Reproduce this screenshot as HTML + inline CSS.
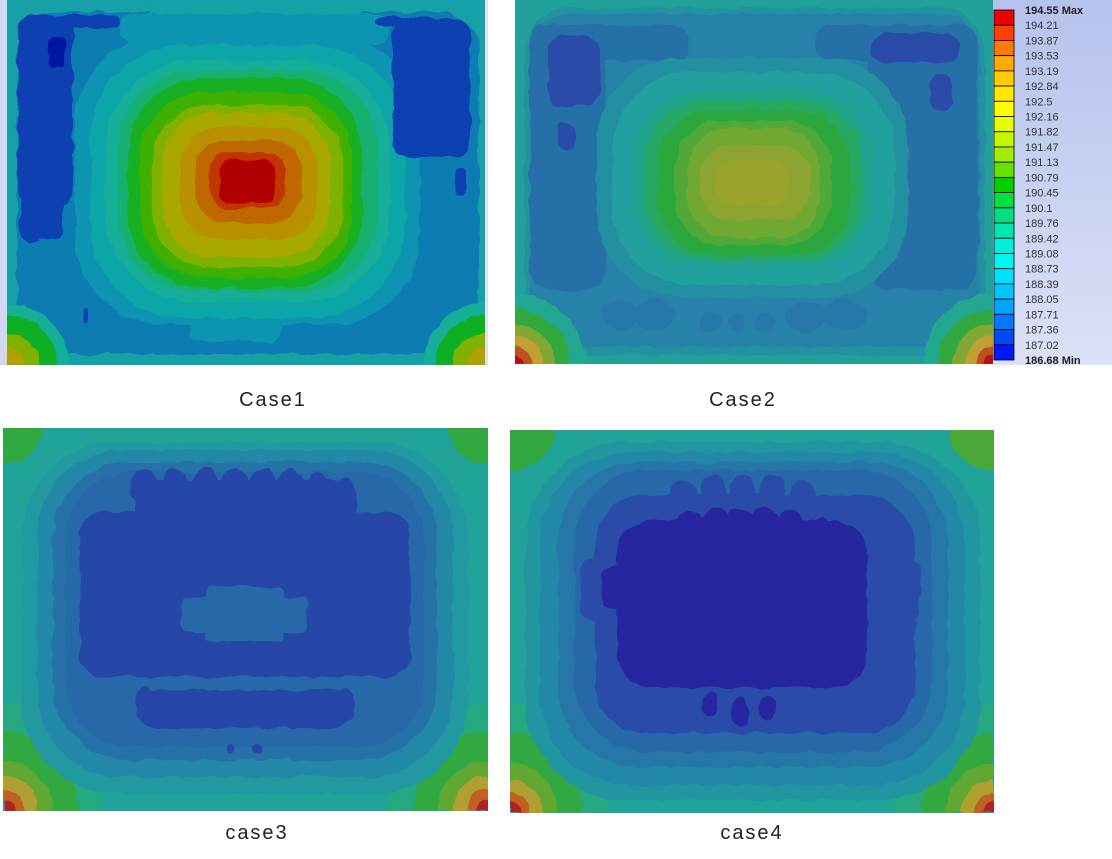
<!DOCTYPE html>
<html><head><meta charset="utf-8"><style>
html,body{margin:0;padding:0;background:#fff;width:1112px;height:859px;overflow:hidden;position:relative;}
svg{display:block;position:absolute;left:0;top:0;}
text{font-family:"Liberation Sans",sans-serif;}
</style></head><body>
<svg width="1112" height="859" viewBox="0 0 1112 859" xmlns="http://www.w3.org/2000/svg">
<defs>
<filter id="wob" x="-10%" y="-10%" width="120%" height="120%">
<feTurbulence type="fractalNoise" baseFrequency="0.06" numOctaves="2" seed="4"/>
<feDisplacementMap in="SourceGraphic" scale="7" xChannelSelector="R" yChannelSelector="G"/>
</filter>
<clipPath id="c1"><rect x="7" y="0" width="478" height="365"/></clipPath>
<clipPath id="c2"><rect x="515" y="0" width="478" height="364"/></clipPath>
<clipPath id="c3"><rect x="3" y="428" width="485" height="383"/></clipPath>
<clipPath id="c4"><rect x="510" y="430" width="484" height="383"/></clipPath>
<linearGradient id="lg" x1="0" y1="0" x2="0" y2="1">
<stop offset="0" stop-color="#b6c2ee"/><stop offset="1" stop-color="#dbe1f6"/>
</linearGradient>
</defs>
<rect width="1112" height="859" fill="#fff"/>
<rect x="0" y="0" width="7" height="365" fill="#d2d8f4"/>
<rect x="485" y="0" width="3" height="365" fill="#dde2f6"/>

<!-- ============ CASE 1 ============ -->
<g clip-path="url(#c1)"><g filter="url(#wob)">
<rect x="-10" y="-10" width="510" height="390" fill="#12a0a8"/>
<rect x="17" y="12" width="462" height="342" rx="40" fill="#0a7cb2"/>
<rect x="150" y="-10" width="210" height="38" rx="15" fill="#12a0a8"/>
<rect x="120" y="14" width="270" height="30" rx="14" fill="#0a94b0"/>
<rect x="75" y="35" width="345" height="290" rx="90" fill="#0a94b0"/>
<rect x="190" y="318" width="90" height="24" rx="10" fill="#0a94b0"/>
<rect x="90" y="45" width="315" height="273" rx="95" fill="#10a6a8"/>
<rect x="105" y="60" width="285" height="242" rx="90" fill="#14ae98"/>
<rect x="118" y="70" width="260" height="222" rx="80" fill="#12b070"/>
<rect x="128" y="78" width="234" height="210" rx="75" fill="#14b024"/>
<rect x="140" y="92" width="212" height="186" rx="65" fill="#40b000"/>
<rect x="152" y="105" width="191" height="162" rx="58" fill="#80b000"/>
<rect x="163" y="113" width="167" height="144" rx="50" fill="#a8a800"/>
<rect x="180" y="127" width="137" height="113" rx="40" fill="#b89000"/>
<rect x="195" y="140" width="107" height="83" rx="30" fill="#c06800"/>
<rect x="210" y="153" width="75" height="55" rx="18" fill="#c03400"/>
<rect x="219" y="160" width="56" height="43" rx="10" fill="#b00000"/>
<rect x="18" y="15" width="55" height="190" rx="14" fill="#0a40b0"/>
<rect x="20" y="195" width="43" height="45" rx="10" fill="#0a40b0"/>
<rect x="60" y="15" width="60" height="13" rx="6" fill="#0a40b0"/>
<rect x="26" y="210" width="14" height="32" rx="5" fill="#0a40b0"/>
<rect x="48" y="37" width="17" height="31" rx="6" fill="#0018a0"/>
<rect x="393" y="18" width="77" height="139" rx="14" fill="#0a40b0"/>
<rect x="375" y="17" width="40" height="8" rx="4" fill="#0a40b0"/>
<rect x="455" y="167" width="11" height="30" rx="5" fill="#0a40b0"/>
<rect x="84" y="306" width="6" height="18" rx="3" fill="#0a40b0"/>
<circle cx="7" cy="365" r="62" fill="#14ae98"/>
<circle cx="7" cy="365" r="50" fill="#10b020"/>
<circle cx="7" cy="365" r="32" fill="#80b000"/>
<circle cx="7" cy="365" r="18" fill="#b0a000"/>
<circle cx="485" cy="365" r="62" fill="#14ae98"/>
<circle cx="485" cy="365" r="50" fill="#10b020"/>
<circle cx="485" cy="365" r="32" fill="#80b000"/>
<circle cx="485" cy="365" r="18" fill="#b0a000"/>
</g></g>

<!-- ============ CASE 2 ============ -->
<g clip-path="url(#c2)"><g filter="url(#wob)">
<rect x="505" y="-10" width="500" height="385" fill="#22a09a"/>
<rect x="525" y="8" width="460" height="347" rx="45" fill="#2492a0"/>
<rect x="530" y="14" width="450" height="333" rx="40" fill="#2582a8"/>
<rect x="530" y="30" width="75" height="260" rx="20" fill="#2870a8"/>
<rect x="530" y="25" width="160" height="35" rx="15" fill="#2870a8"/>
<rect x="868" y="30" width="110" height="260" rx="20" fill="#2870a8"/>
<rect x="815" y="25" width="163" height="35" rx="15" fill="#2870a8"/>
<ellipse cx="620" cy="315" rx="18" ry="15" fill="#2878a8"/>
<ellipse cx="655" cy="315" rx="20" ry="16" fill="#2878a8"/>
<ellipse cx="710" cy="322" rx="10" ry="10" fill="#2878a8"/>
<ellipse cx="737" cy="322" rx="9" ry="9" fill="#2878a8"/>
<ellipse cx="765" cy="322" rx="9" ry="9" fill="#2878a8"/>
<ellipse cx="805" cy="317" rx="20" ry="15" fill="#2878a8"/>
<ellipse cx="845" cy="315" rx="22" ry="16" fill="#2878a8"/>
<rect x="597" y="58" width="311" height="240" rx="85" fill="#2390a0"/>
<rect x="612" y="72" width="283" height="213" rx="80" fill="#22a0a0"/>
<rect x="633" y="90" width="240" height="177" rx="70" fill="#24a48c"/>
<rect x="645" y="100" width="217" height="160" rx="62" fill="#28a862"/>
<rect x="658" y="110" width="192" height="145" rx="55" fill="#2aa83c"/>
<rect x="675" y="120" width="157" height="125" rx="48" fill="#50a838"/>
<rect x="687" y="128" width="133" height="110" rx="42" fill="#70a830"/>
<rect x="700" y="145" width="110" height="75" rx="30" fill="#8ea430"/>
<rect x="715" y="160" width="75" height="45" rx="18" fill="#9aa42a"/>
<rect x="548" y="35" width="52" height="70" rx="15" fill="#2a4ca8"/>
<rect x="550" y="70" width="28" height="38" rx="10" fill="#2a4ca8"/>
<rect x="558" y="122" width="17" height="28" rx="7" fill="#2a4ca8"/>
<rect x="872" y="33" width="86" height="29" rx="12" fill="#2a4ca8"/>
<rect x="930" y="75" width="22" height="35" rx="8" fill="#2a4ca8"/>
<circle cx="515" cy="364" r="70" fill="#22a890"/>
<circle cx="515" cy="364" r="55" fill="#30a840"/>
<circle cx="515" cy="364" r="40" fill="#80a830"/>
<circle cx="515" cy="364" r="28" fill="#c0a030"/>
<circle cx="515" cy="364" r="18" fill="#c05020"/>
<circle cx="515" cy="364" r="10" fill="#b01818"/>
<circle cx="993" cy="364" r="70" fill="#22a890"/>
<circle cx="993" cy="364" r="55" fill="#30a840"/>
<circle cx="993" cy="364" r="40" fill="#80a830"/>
<circle cx="993" cy="364" r="28" fill="#c0a030"/>
<circle cx="993" cy="364" r="18" fill="#c05020"/>
<circle cx="993" cy="364" r="10" fill="#b01818"/>
</g></g>

<!-- ============ CASE 3 ============ -->
<g clip-path="url(#c3)"><g filter="url(#wob)">
<rect x="-10" y="418" width="510" height="400" fill="#22a39a"/>
<ellipse cx="3" cy="428" rx="40" ry="35" fill="#30a840"/>
<ellipse cx="488" cy="428" rx="40" ry="35" fill="#30a840"/>
<path d="M3,811 L3,701 A100,110 0 0 1 103,811 Z" fill="#28a880"/>
<path d="M3,811 L3,731 A75,80 0 0 1 78,811 Z" fill="#30a840"/>
<path d="M3,811 L3,761 A50,50 0 0 1 53,811 Z" fill="#60a830"/>
<path d="M3,811 L3,776 A35,35 0 0 1 38,811 Z" fill="#b0a030"/>
<path d="M3,811 L3,789 A22,22 0 0 1 25,811 Z" fill="#c06020"/>
<path d="M3,811 L3,799 A12,12 0 0 1 15,811 Z" fill="#b02020"/>
<path d="M488,811 L388,811 A100,110 0 0 1 488,701 Z" fill="#28a880"/>
<path d="M488,811 L413,811 A75,80 0 0 1 488,731 Z" fill="#30a840"/>
<path d="M488,811 L438,811 A50,50 0 0 1 488,761 Z" fill="#60a830"/>
<path d="M488,811 L453,811 A35,35 0 0 1 488,776 Z" fill="#b0a030"/>
<path d="M488,811 L466,811 A22,22 0 0 1 488,789 Z" fill="#c06020"/>
<path d="M488,811 L476,811 A12,12 0 0 1 488,799 Z" fill="#b02020"/>
<rect x="22" y="442" width="446" height="352" rx="95" fill="#2298a0"/>
<rect x="37" y="450" width="416" height="327" rx="85" fill="#2488a8"/>
<rect x="53" y="462" width="384" height="298" rx="75" fill="#2672a8"/>
<rect x="66" y="472" width="358" height="275" rx="65" fill="#2868a8"/>
<g fill="#2846a8">
<rect x="80" y="512" width="330" height="165" rx="22"/>
<ellipse cx="144" cy="488" rx="13" ry="18"/>
<ellipse cx="175" cy="487" rx="14" ry="19"/>
<ellipse cx="205" cy="487" rx="14" ry="19"/>
<ellipse cx="235" cy="487" rx="14" ry="19"/>
<ellipse cx="263" cy="487" rx="14" ry="19"/>
<ellipse cx="291" cy="488" rx="14" ry="19"/>
<ellipse cx="318" cy="490" rx="12" ry="17"/>
<ellipse cx="345" cy="492" rx="10" ry="15"/>
<rect x="135" y="480" width="220" height="40" rx="10"/>
<rect x="140" y="690" width="210" height="38" rx="16"/>
<ellipse cx="145" cy="705" rx="10" ry="18"/>
<ellipse cx="345" cy="705" rx="10" ry="18"/>
</g>
<rect x="182" y="597" width="126" height="36" rx="6" fill="#2868a8"/>
<rect x="207" y="586" width="76" height="55" rx="6" fill="#2868a8"/>
<circle cx="230" cy="748" r="5" fill="#2846a8"/>
<circle cx="258" cy="748" r="5" fill="#2846a8"/>
</g></g>

<!-- ============ CASE 4 ============ -->
<g clip-path="url(#c4)"><g filter="url(#wob)">
<rect x="500" y="420" width="505" height="400" fill="#22a39a"/>
<ellipse cx="510" cy="430" rx="45" ry="40" fill="#30a840"/>
<ellipse cx="994" cy="430" rx="45" ry="40" fill="#48a838"/>
<path d="M510,813 L510,703 A100,110 0 0 1 610,813 Z" fill="#28a880"/>
<path d="M510,813 L510,733 A72,80 0 0 1 582,813 Z" fill="#30a840"/>
<path d="M510,813 L510,763 A48,50 0 0 1 558,813 Z" fill="#60a830"/>
<path d="M510,813 L510,780 A33,33 0 0 1 543,813 Z" fill="#b0a030"/>
<path d="M510,813 L510,793 A20,20 0 0 1 530,813 Z" fill="#c06020"/>
<path d="M510,813 L510,802 A11,11 0 0 1 521,813 Z" fill="#b02020"/>
<path d="M994,813 L894,813 A100,110 0 0 1 994,703 Z" fill="#28a880"/>
<path d="M994,813 L922,813 A72,80 0 0 1 994,733 Z" fill="#30a840"/>
<path d="M994,813 L946,813 A48,50 0 0 1 994,763 Z" fill="#60a830"/>
<path d="M994,813 L961,813 A33,33 0 0 1 994,780 Z" fill="#b0a030"/>
<path d="M994,813 L974,813 A20,20 0 0 1 994,793 Z" fill="#c06020"/>
<path d="M994,813 L983,813 A11,11 0 0 1 994,802 Z" fill="#b02020"/>
<rect x="525" y="442" width="455" height="358" rx="100" fill="#2196a0"/>
<rect x="540" y="452" width="425" height="333" rx="90" fill="#2488a8"/>
<rect x="558" y="462" width="390" height="305" rx="80" fill="#2676a8"/>
<rect x="575" y="470" width="357" height="282" rx="72" fill="#2668a8"/>
<g fill="#2a4ca8">
<rect x="595" y="495" width="320" height="238" rx="50"/>
<ellipse cx="683" cy="497" rx="13" ry="17"/>
<ellipse cx="713" cy="492" rx="13" ry="18"/>
<ellipse cx="743" cy="492" rx="13" ry="18"/>
<ellipse cx="773" cy="492" rx="13" ry="18"/>
<ellipse cx="803" cy="497" rx="13" ry="17"/>
<ellipse cx="825" cy="505" rx="8" ry="12"/>
<rect x="580" y="560" width="30" height="60" rx="12"/>
<rect x="900" y="560" width="20" height="60" rx="10"/>
</g>
<g fill="#2828a0">
<rect x="617" y="520" width="250" height="168" rx="35"/>
<ellipse cx="690" cy="525" rx="14" ry="14"/>
<ellipse cx="715" cy="522" rx="14" ry="14"/>
<ellipse cx="740" cy="522" rx="14" ry="14"/>
<ellipse cx="765" cy="522" rx="14" ry="14"/>
<ellipse cx="790" cy="525" rx="14" ry="14"/>
<ellipse cx="821" cy="535" rx="10" ry="18"/>
<rect x="602" y="565" width="30" height="44" rx="10"/>
<ellipse cx="710" cy="705" rx="8" ry="13"/>
<ellipse cx="740" cy="712" rx="9" ry="14"/>
<ellipse cx="768" cy="708" rx="9" ry="13"/>
<ellipse cx="855" cy="662" rx="8" ry="14"/>
</g>
</g></g>

<!-- ============ LEGEND ============ -->
<rect x="993" y="0" width="119" height="365" fill="url(#lg)"/>
<g stroke="#000" stroke-width="0.8">
<rect x="994" y="10.00" width="20" height="15.22" fill="#ee0000"/>
<rect x="994" y="25.22" width="20" height="15.22" fill="#ff4000"/>
<rect x="994" y="40.43" width="20" height="15.22" fill="#ff7a00"/>
<rect x="994" y="55.65" width="20" height="15.22" fill="#ffaa00"/>
<rect x="994" y="70.87" width="20" height="15.22" fill="#ffcc00"/>
<rect x="994" y="86.09" width="20" height="15.22" fill="#ffe800"/>
<rect x="994" y="101.30" width="20" height="15.22" fill="#ffff00"/>
<rect x="994" y="116.52" width="20" height="15.22" fill="#e4ff00"/>
<rect x="994" y="131.74" width="20" height="15.22" fill="#c4f800"/>
<rect x="994" y="146.96" width="20" height="15.22" fill="#a0ee00"/>
<rect x="994" y="162.17" width="20" height="15.22" fill="#6ae000"/>
<rect x="994" y="177.39" width="20" height="15.22" fill="#00d000"/>
<rect x="994" y="192.61" width="20" height="15.22" fill="#00e040"/>
<rect x="994" y="207.83" width="20" height="15.22" fill="#00e080"/>
<rect x="994" y="223.04" width="20" height="15.22" fill="#00e8b0"/>
<rect x="994" y="238.26" width="20" height="15.22" fill="#00f0d8"/>
<rect x="994" y="253.48" width="20" height="15.22" fill="#00f6f0"/>
<rect x="994" y="268.70" width="20" height="15.22" fill="#00e0ff"/>
<rect x="994" y="283.91" width="20" height="15.22" fill="#00c4ff"/>
<rect x="994" y="299.13" width="20" height="15.22" fill="#00a4ff"/>
<rect x="994" y="314.35" width="20" height="15.22" fill="#0078ff"/>
<rect x="994" y="329.57" width="20" height="15.22" fill="#0048f0"/>
<rect x="994" y="344.78" width="20" height="15.22" fill="#0018ff"/>
</g>
<g font-size="11" fill="#333">
<text x="1025" y="14" font-weight="bold" fill="#222">194.55 Max</text>
<text x="1025" y="29.2">194.21</text>
<text x="1025" y="44.4">193.87</text>
<text x="1025" y="59.7">193.53</text>
<text x="1025" y="74.9">193.19</text>
<text x="1025" y="90.1">192.84</text>
<text x="1025" y="105.3">192.5</text>
<text x="1025" y="120.5">192.16</text>
<text x="1025" y="135.7">191.82</text>
<text x="1025" y="151.0">191.47</text>
<text x="1025" y="166.2">191.13</text>
<text x="1025" y="181.4">190.79</text>
<text x="1025" y="196.6">190.45</text>
<text x="1025" y="211.8">190.1</text>
<text x="1025" y="227.0">189.76</text>
<text x="1025" y="242.3">189.42</text>
<text x="1025" y="257.5">189.08</text>
<text x="1025" y="272.7">188.73</text>
<text x="1025" y="287.9">188.39</text>
<text x="1025" y="303.1">188.05</text>
<text x="1025" y="318.3">187.71</text>
<text x="1025" y="333.6">187.36</text>
<text x="1025" y="348.8">187.02</text>
<text x="1025" y="364" font-weight="bold" fill="#222">186.68 Min</text>
</g>

<!-- ============ LABELS ============ -->
<g font-size="20" fill="#222" text-anchor="middle" letter-spacing="2">
<text x="273" y="406">Case1</text>
<text x="743" y="406">Case2</text>
<text x="257" y="839">case3</text>
<text x="752" y="839">case4</text>
</g>
</svg>
</body></html>
